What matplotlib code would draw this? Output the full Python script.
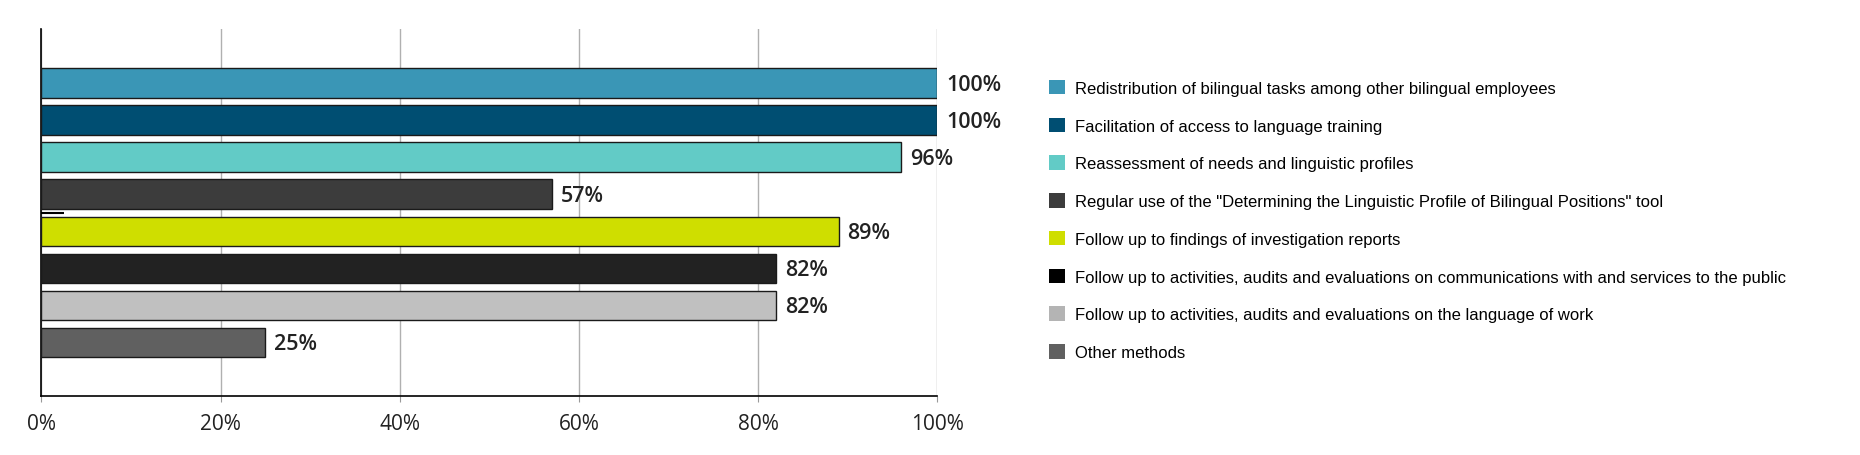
import matplotlib.pyplot as plt
from matplotlib.patches import Patch

# Data
labels = [
    'Redistribution of bilingual tasks among other bilingual employees',
    'Facilitation of access to language training',
    'Reassessment of needs and linguistic profiles',
    'Regular use of the "Determining the Linguistic Profile of Bilingual Positions" tool',
    'Follow up to findings of investigation reports',
    'Follow up to activities, audits and evaluations on communications with and services to the public',
    'Follow up to activities, audits and evaluations on the language of work',
    'Other methods',
]
values = [100, 100, 96, 57, 89, 82, 82, 25]
colors = ['#3a96b6', '#004e72', '#62cbc6', '#3c3c3c', '#cfde00', '#222222', '#c0c0c0', '#606060']
legend_colors = ['#3a96b6', '#004e72', '#62cbc6', '#3c3c3c', '#cfde00', '#000000', '#b4b4b4', '#606060']
xticks = [0, 20, 40, 60, 80, 100]
xtick_labels = ['0%', '20%', '40%', '60%', '80%', '100%']

fig = plt.figure(figsize=(18.6, 4.56), dpi=100)
ax = fig.add_axes([0.0223, 0.129, 0.4815, 0.805])

pos = list(range(len(values)))
ax.barh(pos, values, height=0.8, color=colors, edgecolor='#1a1a1a', linewidth=1, zorder=3)

# value labels
for p, v in zip(pos, values):
    ax.text(v + 1.0, p + 0.03, f'{v}%', va='center', ha='left', fontsize=15.5,
            fontweight='semibold', family='Open Sans', color='#222222')

# stray little dash between the 4th and 5th bar in the original
ax.plot([0, 2.5], [3.5, 3.5], color='black', lw=1.5, zorder=4, solid_capstyle='butt')

ax.set_xlim(0, 100)
ax.set_ylim(7 + 1.45, -1.46)
ax.set_yticks([])
ax.set_xticks(xticks)
ax.set_xticklabels(xtick_labels, family='Open Sans', fontsize=15, color='#222222')
ax.tick_params(axis='x', length=4, color='#999999', pad=8)
ax.grid(axis='x', color='#b0b0b0', lw=1, zorder=0)
for s in ['top', 'right']:
    ax.spines[s].set_visible(False)
ax.spines['left'].set_color('black')
ax.spines['bottom'].set_color('black')
ax.spines['left'].set_linewidth(1.2)
ax.spines['bottom'].set_linewidth(1.2)

handles = [Patch(facecolor=c, edgecolor='none') for c in legend_colors]
fig.legend(handles, labels, loc='upper left', bbox_to_anchor=(0.5605, 0.837),
           frameon=False, prop={'family': 'Liberation Sans', 'size': 12},
           handlelength=0.95, handleheight=0.95, handletextpad=0.6, labelspacing=1.31,
           borderaxespad=0)

fig.savefig('out.png', dpi=100)
